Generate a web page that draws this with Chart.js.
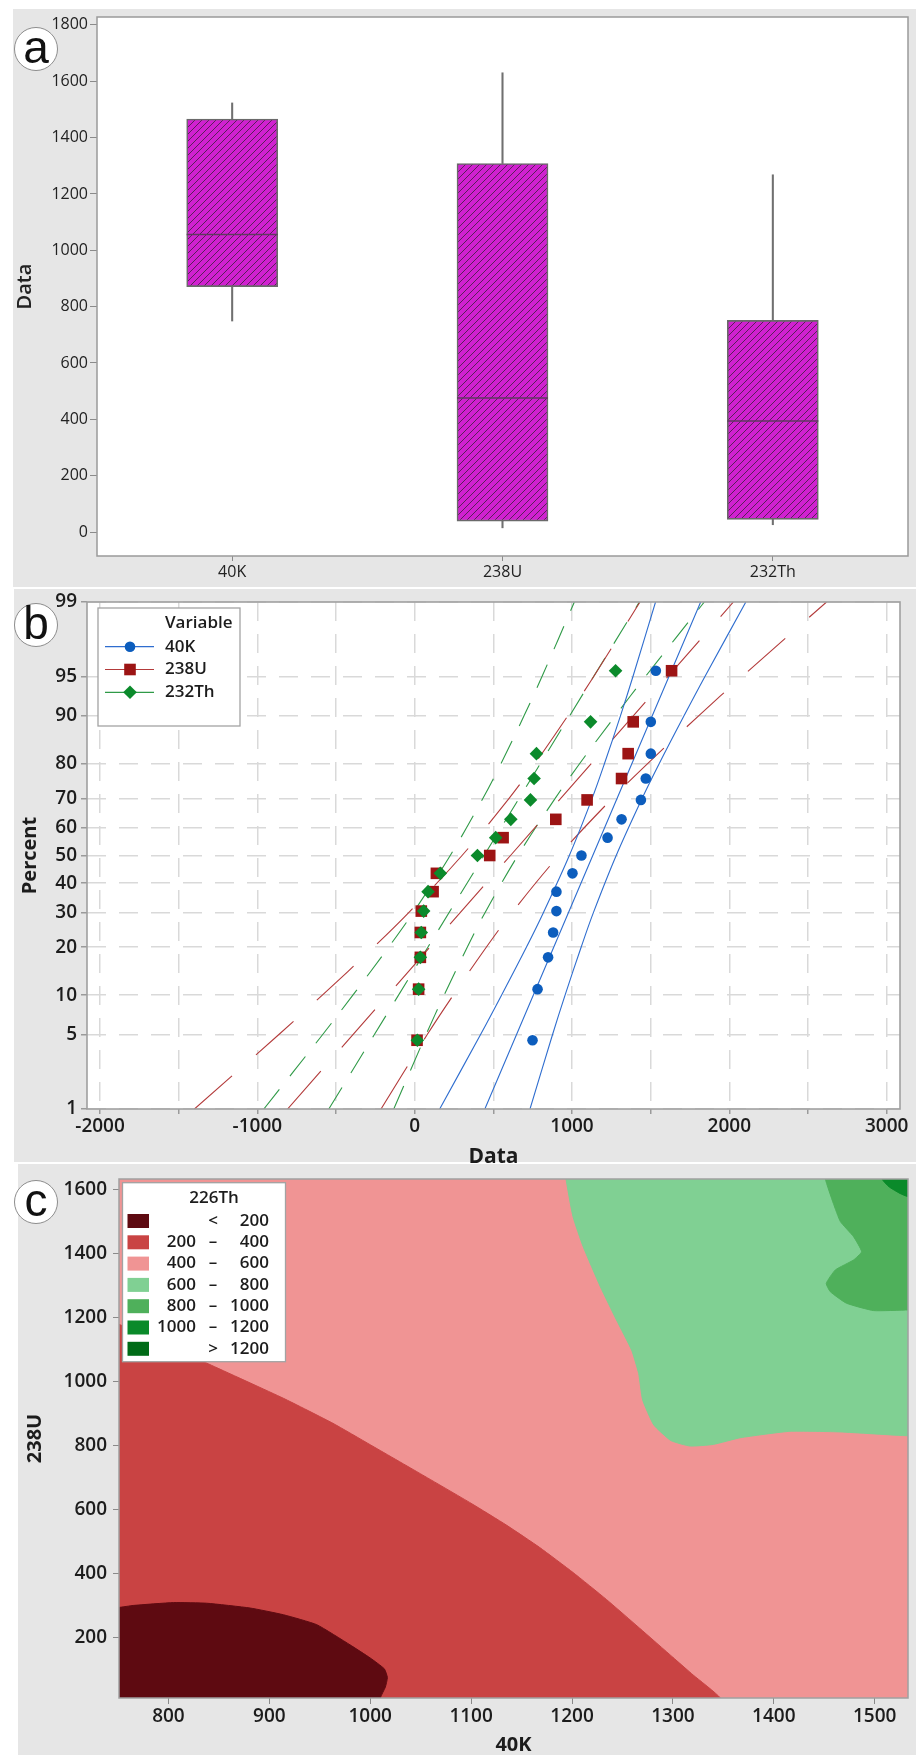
<!DOCTYPE html>
<html><head><meta charset="utf-8"><title>Radionuclide charts</title>
<script src="https://cdn.jsdelivr.net/npm/chart.js@4.4.1/dist/chart.umd.min.js"></script>
<style>
html,body{margin:0;padding:0;background:#fff}
body{position:relative;width:916px;height:1755px;overflow:hidden}
.panel{position:absolute;background:#e6e6e6}
canvas{position:absolute;left:0}
.tag{position:absolute;left:14px;width:44px;height:44px;border-radius:50%;background:#fff;border:1px solid #8c8c8c;box-sizing:border-box;font:46px/38px "Liberation Sans",Arial,sans-serif;text-align:center;color:#111}
</style></head><body>
<div class="panel" style="left:13px;top:9px;width:903px;height:578px"></div>
<div class="panel" style="left:14px;top:589px;width:902px;height:573px"></div>
<div class="panel" style="left:18px;top:1164px;width:898px;height:591px"></div>
<canvas id="ca" width="916" height="588" style="top:0"></canvas>
<canvas id="cb" width="916" height="580" style="top:588px"></canvas>
<canvas id="cc" width="916" height="592" style="top:1163px"></canvas>
<div class="tag" style="top:27px">a</div>
<div class="tag" style="top:603px">b</div>
<div class="tag" style="top:1180px">c</div>
<script>
// ================= DATA =================
// (a) box plot
const boxCats   = ['40K', '238U', '232Th'];
const boxMin    = [749, 15, 26];
const boxQ1     = [871, 39, 45];
const boxMedian = [1056, 476, 394];
const boxQ3     = [1466, 1308, 751];
const boxMax    = [1523, 1630, 1268];
const boxTicks  = [0, 200, 400, 600, 800, 1000, 1200, 1400, 1600, 1800];

// (b) normal probability plot
const seriesNames  = ['40K', '238U', '232Th'];
const plotPercent  = [4.5, 11.0, 17.5, 24.0, 30.5, 37.0, 43.5, 50.0, 56.5, 63.0, 69.5, 76.0, 82.5, 89.0, 95.5];
const k40Values    = [749, 781, 848, 880, 901, 901, 1003, 1060, 1226, 1315, 1438, 1469, 1501, 1501, 1533];
const u238Values   = [15, 25, 36, 36, 42, 117, 138, 477, 562, 897, 1096, 1315, 1357, 1389, 1633];
const th232Values  = [17, 25, 36, 42, 57, 85, 163, 399, 515, 611, 736, 759, 774, 1118, 1277];
const fitPercent   = [1, 99];
const k40Fit       = [446, 1818];
const u238Fit      = [-808, 2026];
const th232Fit     = [-546, 1428];
const ciPercent    = [1, 5, 10, 20, 30, 50, 70, 80, 90, 95, 99];
const k40Lower     = [159, 418, 552, 710, 818, 983, 1128, 1206, 1308, 1388, 1531];
const k40Upper     = [733, 876, 956, 1058, 1136, 1281, 1446, 1554, 1712, 1846, 2105];
const u238Lower    = [-1400, -865, -587, -261, -38, 301, 600, 763, 973, 1139, 1432];
const u238Upper    = [-214, 79, 245, 455, 618, 917, 1256, 1479, 1805, 2083, 2618];
const th232Lower   = [-959, -586, -393, -166, -10, 226, 434, 548, 695, 810, 1015];
const th232Upper   = [-133, 72, 187, 334, 447, 656, 893, 1048, 1275, 1468, 1841];
const probXTicks   = [-2000, -1500, -1000, -500, 0, 500, 1000, 1500, 2000, 2500, 3000];
const probYTicks   = [1, 5, 10, 20, 30, 40, 50, 60, 70, 80, 90, 95, 99];

// (c) contour plot of 226Th over 40K (x) and 238U (y)
const contourXTicks = [800, 900, 1000, 1100, 1200, 1300, 1400, 1500];
const contourYTicks = [200, 400, 600, 800, 1000, 1200, 1400, 1600];
const zone400to600  = [[700,-60],[700,1700],[1600,1700],[1600,-60]];
const zone200to400  = [[700,-60],[700,1230],[751,1178],[800,1112],[840,1054],[914,947],[963,869],[1000,802],[1050,711],[1100,619],[1135,551],[1168,481],[1201,403],[1234,319],[1267,229],[1300,138],[1320,83],[1347,11],[1353,-60]];
const zoneBelow200  = [[700,-60],[700,294],[751,294],[765,300],[805,309],[838,307],[881,292],[914,271],[947,240],[980,177],[1000,136],[1014,102],[1017,75],[1015,45],[1010,11],[1008,-60]];
const zone600to800  = [[1192,1700],[1194,1633],[1201,1514],[1211,1421],[1228,1296],[1244,1192],[1259,1098],[1266,1025],[1270,942],[1281,864],[1298,815],[1317,798],[1340,803],[1367,824],[1416,844],[1466,842],[1533,830],[1600,830],[1600,1700]];
const zone800to1000 = [[1449,1700],[1451,1633],[1459,1556],[1466,1499],[1479,1452],[1487,1405],[1479,1379],[1461,1348],[1452,1306],[1456,1280],[1472,1244],[1499,1221],[1533,1223],[1600,1223],[1600,1700]];
const zone1000to1200= [[1503,1700],[1507,1633],[1514,1608],[1525,1587],[1533,1577],[1600,1570],[1600,1700]];
const legendTitleC  = '226Th';
const legendFrom    = ['', '200', '400', '600', '800', '1000', ''];
const legendSep     = ['<', '–', '–', '–', '–', '–', '>'];
const legendTo      = ['200', '400', '600', '800', '1000', '1200', '1200'];
const legendColors  = ['#5e0a11', '#c94343', '#f09494', '#80d093', '#4fb05b', '#0a8a2a', '#006b17'];

// ================= HELPERS =================
Chart.defaults.font.family = '"Open Sans", "DejaVu Sans", sans-serif';
Chart.defaults.color = '#1c1c1c';
Chart.defaults.animation = false;

const FONT = '"Open Sans", "DejaVu Sans", sans-serif';
const fixW = w => s => { s.width = w; s.paddingLeft = s.paddingRight = s.paddingTop = s.paddingBottom = 0; };
const fixH = h => s => { s.height = h; s.paddingLeft = s.paddingRight = s.paddingTop = s.paddingBottom = 0; };
const setTicks = arr => s => { s.ticks = arr.map(v => ({value: v})); };
const plain = v => String(v);

function probit(p) { // inverse standard-normal CDF, used for the probability axis
  const a=[-3.969683028665376e+01,2.209460984245205e+02,-2.759285104469687e+02,1.383577518672690e+02,-3.066479806614716e+01,2.506628277459239e+00];
  const b=[-5.447609879822406e+01,1.615858368580409e+02,-1.556989798598866e+02,6.680131188771972e+01,-1.328068155288572e+01];
  const c=[-7.784894002430293e-03,-3.223964580411365e-01,-2.400758277161838e+00,-2.549732539343734e+00,4.374664141464968e+00,2.938163982698783e+00];
  const d=[7.784695709041462e-03,3.224671290700398e-01,2.445134137142996e+00,3.754408661907416e+00];
  const pl=0.02425, ph=1-pl; let q, r;
  if (p < pl) { q=Math.sqrt(-2*Math.log(p)); return (((((c[0]*q+c[1])*q+c[2])*q+c[3])*q+c[4])*q+c[5])/((((d[0]*q+d[1])*q+d[2])*q+d[3])*q+1); }
  if (p <= ph) { q=p-0.5; r=q*q; return (((((a[0]*r+a[1])*r+a[2])*r+a[3])*r+a[4])*r+a[5])*q/(((((b[0]*r+b[1])*r+b[2])*r+b[3])*r+b[4])*r+1); }
  q=Math.sqrt(-2*Math.log(1-p)); return -(((((c[0]*q+c[1])*q+c[2])*q+c[3])*q+c[4])*q+c[5])/((((d[0]*q+d[1])*q+d[2])*q+d[3])*q+1);
}
const probPts = (vals, pcts) => vals.map((x, i) => ({x: x, y: probit(pcts[i] / 100)}));
const polyPts = pairs => pairs.map(p => ({x: p[0], y: p[1]}));

const framePlugin = {
  id: 'frame',
  beforeDraw(chart, args, o) {
    const {ctx, chartArea: a} = chart;
    ctx.save(); ctx.fillStyle = o.bg || '#fff';
    ctx.fillRect(a.left, a.top, a.right - a.left, a.bottom - a.top); ctx.restore();
  },
  afterDatasetsDraw(chart, args, o) {
    const {ctx, chartArea: a} = chart;
    ctx.save(); ctx.strokeStyle = o.color || '#999'; ctx.lineWidth = o.width || 1.5;
    ctx.strokeRect(a.left, a.top, a.right - a.left, a.bottom - a.top); ctx.restore();
  }
};

function hatchPattern() {
  const n = 7, cv = document.createElement('canvas'); cv.width = n; cv.height = n;
  const g = cv.getContext('2d');
  g.fillStyle = '#d021d0'; g.fillRect(0, 0, n, n);
  g.strokeStyle = '#5a1f5a'; g.lineWidth = 1;
  g.beginPath();
  g.moveTo(-1, n + 1); g.lineTo(n + 1, -1);
  g.moveTo(-1, 1); g.lineTo(1, -1);
  g.moveTo(n - 1, n + 1); g.lineTo(n + 1, n - 1);
  g.stroke();
  return g.createPattern(cv, 'repeat');
}

// ================= (a) BOX PLOT =================
new Chart(document.getElementById('ca'), {
  type: 'bar',
  data: {
    labels: boxCats,
    datasets: [
      {type: 'line', data: boxMedian, showLine: false, pointStyle: 'line', pointRadius: 45.5,
       pointBorderColor: '#5f3a5f', pointBorderWidth: 1.6, borderColor: '#5f3a5f', order: 0},
      {type: 'bar', data: boxQ1.map((v, i) => [v, boxQ3[i]]), backgroundColor: hatchPattern(),
       borderColor: '#6a6a6a', borderWidth: 1.6, borderSkipped: false, barThickness: 91, grouped: false, order: 1},
      {type: 'bar', data: boxQ3.map((v, i) => [v, boxMax[i]]), backgroundColor: '#707070',
       barThickness: 1.4, grouped: false, order: 2},
      {type: 'bar', data: boxMin.map((v, i) => [v, boxQ1[i]]), backgroundColor: '#707070',
       barThickness: 1.4, grouped: false, order: 2}
    ]
  },
  options: {
    responsive: false, animation: false, events: [],
    layout: {autoPadding: false, padding: {left: 0, top: 17, right: 8, bottom: 0}},
    plugins: {legend: {display: false}, tooltip: {enabled: false}, frame: {bg: '#fff', color: '#9a9a9a', width: 1.5}},
    scales: {
      x: {type: 'category', offset: true,
          grid: {offset: false, drawOnChartArea: false, tickLength: 5, tickColor: '#8a8a8a'},
          border: {display: false},
          ticks: {font: {size: 16}, color: '#222', padding: 2},
          afterFit: fixH(32)},
      y: {min: -85, max: 1828, afterBuildTicks: setTicks(boxTicks),
          grid: {drawOnChartArea: false, tickLength: 7, tickColor: '#8a8a8a'},
          border: {display: false},
          ticks: {font: {size: 16}, color: '#222', padding: 2, callback: plain},
          title: {display: true, text: 'Data', font: {size: 20, weight: '600', lineHeight: 1}, color: '#222', padding: {top: 15, bottom: 0}},
          afterFit: fixW(97)}
    }
  },
  plugins: [framePlugin]
});

// ================= (b) PROBABILITY PLOT =================
const seriesColors = ['#0c5dbd', '#9c1414', '#0b8a2b'];
const seriesStyles = ['circle', 'rect', 'rectRot'];
const seriesRadius = [5.3, 8.2, 6.8];
const lineColors   = ['#2e6dcf', '#b33a3a', '#2f9a47'];
const lineDash     = [[], [50, 32], [25, 17]];
const seriesVals   = [k40Values, u238Values, th232Values];
const seriesFit    = [k40Fit, u238Fit, th232Fit];
const seriesLow    = [k40Lower, u238Lower, th232Lower];
const seriesHigh   = [k40Upper, u238Upper, th232Upper];

const probDatasets = [];
seriesNames.forEach((name, i) => {
  probDatasets.push({label: name, data: probPts(seriesVals[i], plotPercent), showLine: false,
    pointStyle: seriesStyles[i], pointRadius: seriesRadius[i], pointBorderWidth: 0,
    backgroundColor: seriesColors[i], borderColor: seriesColors[i], order: 2 - i});
  [[seriesFit[i], fitPercent], [seriesLow[i], ciPercent], [seriesHigh[i], ciPercent]].forEach(([vals, pc]) => {
    probDatasets.push({label: name + ' line', data: probPts(vals, pc), showLine: true, pointRadius: 0,
      borderColor: lineColors[i], borderWidth: 1.1, borderDash: lineDash[i], tension: 0.35, order: 5});
  });
});

const probLegend = {
  id: 'probLegend',
  afterDraw(chart) {
    const {ctx, chartArea: a} = chart;
    const x0 = a.left + 11, y0 = a.top + 6, w = 142, h = 118;
    ctx.save();
    ctx.fillStyle = '#fff'; ctx.fillRect(x0, y0, w, h);
    ctx.strokeStyle = '#a3a3a3'; ctx.lineWidth = 1.3; ctx.strokeRect(x0, y0, w, h);
    ctx.fillStyle = '#1c1c1c'; ctx.font = '600 17px ' + FONT; ctx.textBaseline = 'middle'; ctx.textAlign = 'left';
    ctx.fillText('Variable', x0 + 67, y0 + 15);
    seriesNames.forEach((name, i) => {
      const cy = y0 + 38.7 + i * 22.8;
      ctx.strokeStyle = lineColors[i]; ctx.lineWidth = 1.2; ctx.setLineDash([]);
      ctx.beginPath(); ctx.moveTo(x0 + 7, cy); ctx.lineTo(x0 + 56, cy); ctx.stroke();
      ctx.fillStyle = seriesColors[i]; ctx.beginPath();
      const mx = x0 + 32;
      if (seriesStyles[i] === 'circle') ctx.arc(mx, cy, 5.3, 0, Math.PI * 2);
      else if (seriesStyles[i] === 'rect') ctx.rect(mx - 5.8, cy - 5.8, 11.6, 11.6);
      else { ctx.moveTo(mx - 6.8, cy); ctx.lineTo(mx, cy - 6.8); ctx.lineTo(mx + 6.8, cy); ctx.lineTo(mx, cy + 6.8); ctx.closePath(); }
      ctx.fill();
      ctx.fillStyle = '#1c1c1c';
      ctx.fillText(name, x0 + 67, cy);
    });
    ctx.restore();
  }
};

new Chart(document.getElementById('cb'), {
  type: 'scatter',
  data: {datasets: probDatasets},
  options: {
    responsive: false, animation: false, events: [],
    layout: {autoPadding: false, padding: {left: 0, top: 14, right: 16, bottom: 0}},
    plugins: {legend: {display: false}, tooltip: {enabled: false}, frame: {bg: '#fff', color: '#a0a0a0', width: 1.6}},
    scales: {
      x: {type: 'linear', min: -2083, max: 3085, afterBuildTicks: setTicks(probXTicks),
          grid: {color: '#d9d9d9', lineWidth: 1.5, tickLength: 5, tickColor: '#9a9a9a'},
          border: {display: false, dash: [19, 13]},
          ticks: {font: {size: 19, weight: '600'}, color: '#1c1c1c', padding: 1,
                  callback: v => (v % 1000 === 0 ? String(v) : '')},
          title: {display: true, text: 'Data', font: {size: 21, weight: 'bold', lineHeight: 1}, color: '#1c1c1c', padding: {top: 0, bottom: 0}},
          afterFit: fixH(59)},
      y: {type: 'linear', min: probit(0.01), max: probit(0.99),
          afterBuildTicks: s => { s.ticks = probYTicks.map(p => ({value: probit(p / 100)})); },
          grid: {color: '#d9d9d9', lineWidth: 1.5, tickLength: 6, tickColor: '#9a9a9a'},
          border: {display: false, dash: [19, 13]},
          ticks: {font: {size: 19, weight: '600'}, color: '#1c1c1c', padding: 4, autoSkip: false,
                  callback: (v, i) => String(probYTicks[i])},
          title: {display: true, text: 'Percent', font: {size: 20, weight: 'bold', lineHeight: 1}, color: '#1c1c1c', padding: {top: 20, bottom: 0}},
          afterFit: fixW(87)}
    }
  },
  plugins: [framePlugin, probLegend]
});

// ================= (c) CONTOUR PLOT =================
const zones = [zoneBelow200, zone200to400, zone400to600, zone600to800, zone800to1000, zone1000to1200];
const zoneOrder = [3, 5, 6, 4, 2, 1];
const contourDatasets = zones.map((z, i) => ({
  label: legendTo[i], data: polyPts(z), showLine: true, fill: 'shape', tension: 0.15,
  backgroundColor: legendColors[i], borderColor: legendColors[i], borderWidth: 1,
  pointRadius: 0, order: zoneOrder[i]
}));

const contourLegend = {
  id: 'contourLegend',
  afterDraw(chart) {
    const {ctx, chartArea: a} = chart;
    const x0 = a.left + 3.5, y0 = a.top + 3.7, w = 163, h = 179;
    ctx.save();
    ctx.fillStyle = '#fff'; ctx.fillRect(x0, y0, w, h);
    ctx.strokeStyle = '#a3a3a3'; ctx.lineWidth = 1.3; ctx.strokeRect(x0, y0, w, h);
    ctx.fillStyle = '#1c1c1c'; ctx.font = '600 17px ' + FONT; ctx.textBaseline = 'middle';
    ctx.textAlign = 'center'; ctx.fillText(legendTitleC, x0 + 91.5, y0 + 15);
    legendTo.forEach((t, i) => {
      const cy = y0 + 38.3 + i * 21.3;
      ctx.fillStyle = legendColors[i]; ctx.fillRect(x0 + 5, cy - 7, 21.5, 14);
      ctx.fillStyle = '#1c1c1c';
      ctx.textAlign = 'right'; ctx.fillText(legendFrom[i], x0 + 73.5, cy);
      ctx.textAlign = 'center'; ctx.fillText(legendSep[i], x0 + 90.5, cy);
      ctx.textAlign = 'right'; ctx.fillText(t, x0 + 146.5, cy);
    });
    ctx.restore();
  }
};

new Chart(document.getElementById('cc'), {
  type: 'scatter',
  data: {datasets: contourDatasets},
  options: {
    responsive: false, animation: false, events: [],
    layout: {autoPadding: false, padding: {left: 0, top: 16, right: 8, bottom: 0}},
    plugins: {legend: {display: false}, tooltip: {enabled: false}, filler: {propagate: false}, frame: {bg: '#f09494', color: '#a0a0a0', width: 1.5}},
    scales: {
      x: {type: 'linear', min: 751, max: 1533, afterBuildTicks: setTicks(contourXTicks),
          grid: {drawOnChartArea: false, tickLength: 6, tickColor: '#8a8a8a'},
          border: {display: false},
          ticks: {font: {size: 19, weight: '600'}, color: '#1c1c1c', padding: 1, callback: plain},
          title: {display: true, text: '40K', font: {size: 20, weight: 'bold', lineHeight: 1}, color: '#1c1c1c', padding: {top: 0, bottom: 0}},
          afterFit: fixH(57)},
      y: {type: 'linear', min: 11, max: 1632, afterBuildTicks: setTicks(contourYTicks),
          grid: {drawOnChartArea: false, tickLength: 6, tickColor: '#8a8a8a'},
          border: {display: false},
          ticks: {font: {size: 19, weight: '600'}, color: '#1c1c1c', padding: 6, callback: plain},
          title: {display: true, text: '238U', font: {size: 20, weight: 'bold', lineHeight: 1}, color: '#1c1c1c', padding: {top: 25, bottom: 0}},
          afterFit: fixW(119)}
    }
  },
  plugins: [framePlugin, contourLegend]
});
</script>
</body></html>
